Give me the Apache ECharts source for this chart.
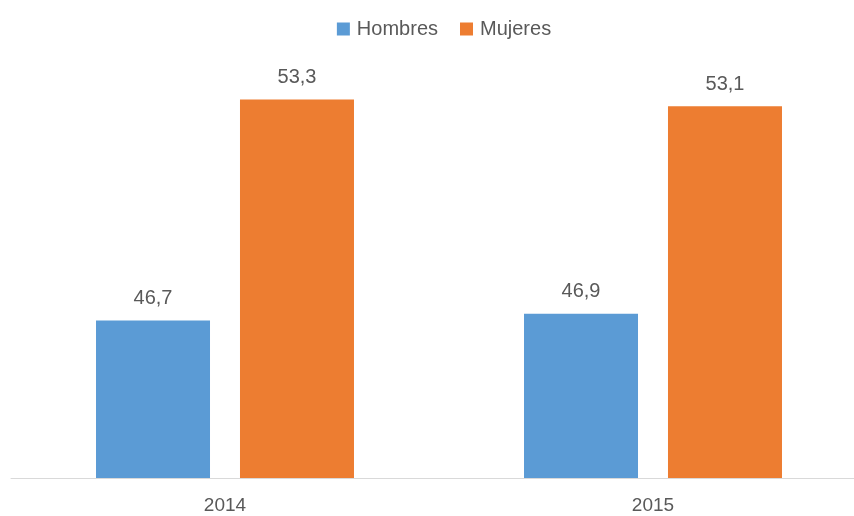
<!DOCTYPE html>
<html>
<head>
<meta charset="utf-8">
<script src="https://cdn.jsdelivr.net/npm/echarts@6/dist/echarts.min.js"></script>
<style>
html,body{margin:0;padding:0;background:#fff;overflow:hidden;width:854px;height:516px;}
#chart{width:888px;height:516px;}
</style>
</head>
<body>
<div id="chart"></div>
<script>
const categories = ['2014', '2015'];
const hombres = [46.7, 46.9];
const mujeres = [53.3, 53.1];
const seriesNames = ['Hombres', 'Mujeres'];

const FONT = 'Liberation Sans';
const TXT = '#595959';
const chart = echarts.init(document.getElementById('chart'));
const lbl = {
  show: true,
  position: 'top',
  distance: 12,
  color: TXT,
  fontFamily: FONT,
  fontSize: 20,
  formatter: p => String(p.value.toFixed(1)).replace('.', ',')
};
chart.setOption({
  animation: false,
  legend: {
    top: 14,
    left: 'center',
    itemWidth: 13,
    itemHeight: 13,
    itemGap: 22,
    icon: 'rect',
    textStyle: { color: TXT, fontFamily: FONT, fontSize: 20, padding: [0, 0, 0, 2] },
    data: seriesNames
  },
  grid: { left: 11, right: 21, top: 76, bottom: 38, containLabel: false },
  xAxis: {
    type: 'category',
    data: categories,
    axisLine: { lineStyle: { color: '#D9D9D9', width: 1 } },
    axisTick: { show: false },
    axisLabel: { color: TXT, fontFamily: FONT, fontSize: 19, margin: 18 }
  },
  yAxis: {
    type: 'value',
    min: 42,
    max: 54,
    show: false,
    splitLine: { show: false }
  },
  series: [
    { name: seriesNames[0], type: 'bar', data: hombres, barWidth: 114, barGap: '26.3%',
      itemStyle: { color: '#5B9BD5' }, label: lbl },
    { name: seriesNames[1], type: 'bar', data: mujeres, barWidth: 114, barGap: '26.3%',
      itemStyle: { color: '#ED7D31' }, label: lbl }
  ]
});
</script>
</body>
</html>
